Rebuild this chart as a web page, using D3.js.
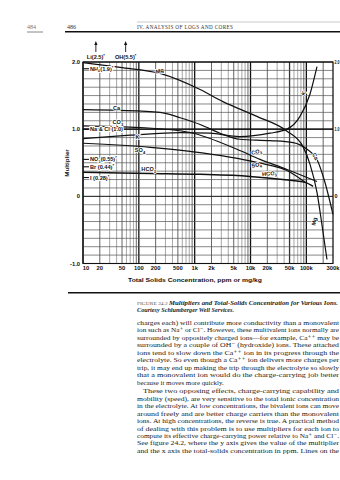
<!DOCTYPE html>
<html><head><meta charset="utf-8">
<script src="https://cdn.jsdelivr.net/npm/d3@7"></script>
<style>
html,body{margin:0;padding:0;background:#fff;}
svg{display:block;}
</style></head><body>
<svg id="page" width="340" height="480"></svg>
<script>
// Axis ticks
const concTicks = [10,20,50,100,200,500,1000,2000,5000,10000,20000,50000,100000,300000];
const concTickLabels = ["10","20","50","100","200","500","1k","2k","5k","10k","20k","50k","100k","300k"];
const multTicks = [2,1,0,-1];
const multTickLabels = ["2.0","1.0","0","-1.0"];

// Multiplier curves: total-solids concentration (ppm) and multiplier
const mgConc  = [10, 46, 240, 1250, 3200, 13000, 45000, 87000, 116000, 155000, 190000, 234000];
const mgMult  = [1.99, 1.92, 1.83, 1.59, 1.41, 1.19, 0.97, 0.74, 0.48, 0.06, -0.42, -0.94];
const caConc  = [10, 46, 240, 550, 1250, 2830, 6400, 22300, 58000, 103000, 155000, 215000, 300000];
const caMult  = [1.29, 1.28, 1.25, 1.17, 1.07, 0.94, 0.85, 0.83, 0.80, 0.70, 0.55, 0.21, -0.27];
const kConc   = [10, 70, 550, 1880, 6400, 22300, 45000, 77000, 116000, 155000];
const kMult   = [0.86, 0.91, 0.95, 0.94, 0.89, 0.94, 1.0, 1.19, 1.52, 1.93];
const co3Conc = [10, 105, 825, 5730, 14800, 45000, 155000];
const co3Mult = [1.05, 1.025, 0.95, 0.70, 0.55, 0.40, 0.22];
const so4Conc = [10, 160, 825, 13000, 51500, 95000];
const so4Mult = [0.79, 0.73, 0.67, 0.505, 0.36, 0.21];
const hco3Conc = [10, 160, 1250, 9800, 51500, 95000, 132000];
const hco3Mult = [0.357, 0.34, 0.327, 0.297, 0.238, 0.208, 0.149];
const naclConc = [10, 300000];
const naclMult = [1.0, 1.0];

// Constant-multiplier ions listed at the left edge
const constIons = [
  {name:"NH", sub:"4", val:"(1.9)", mult:1.9},
  {name:"Na & Cl ", sub:"", val:"(1.0)", mult:1.0, nostar:true},
  {name:"NO", sub:"3", val:"(0.55)", mult:0.55},
  {name:"Br ", sub:"", val:"(0.44)", mult:0.44},
  {name:"I ", sub:"", val:"(0.28)", mult:0.28}
];
// Ions whose multiplier is off the top of the chart
const offIons = [
  {name:"Li", val:"(2.5)", conc:17},
  {name:"OH", val:"(5.5)", conc:58}
];

// Body text
const bodyLines = [
  "charges each) will contribute more conductivity than a monovalent",
  "ion such as Na\u207A or Cl\u207B. However, these multivalent ions normally are",
  "surrounded by oppositely charged ions\u2014for example, Ca\u207A\u207A may be",
  "surrounded by a couple of OH\u207B (hydroxide) ions. These attached",
  "ions tend to slow down the Ca\u207A\u207A ion in its progress through the",
  "electrolyte. So even though a Ca\u207A\u207A ion delivers more charges per",
  "trip, it may end up making the trip through the electrolyte so slowly",
  "that a monovalent ion would do the charge-carrying job better",
  "because it moves more quickly.",
  "These two opposing effects, charge-carrying capability and",
  "mobility (speed), are very sensitive to the total ionic concentration",
  "in the electrolyte. At low concentrations, the bivalent ions can move",
  "around freely and are better charge carriers than the monovalent",
  "ions. At high concentrations, the reverse is true. A practical method",
  "of dealing with this problem is to use multipliers for each ion to",
  "compute its effective charge-carrying power relative to Na\u207A and Cl\u207B.",
  "See figure 24.2, where the y axis gives the value of the multiplier",
  "and the x axis the total-solids concentration in ppm. Lines on the"
];

const svg = d3.select("#page");
const W = 340, H = 480;
svg.append("rect").attr("width", W).attr("height", H).attr("fill", "#fff");

const x = d3.scaleLog().domain([10, 300000]).range([83, 333]);
const y = d3.scaleLinear().domain([-1, 2]).range([263.5, 62]);
const chartFont = "'Liberation Sans', Arial, sans-serif";
const serif = "'Liberation Serif', 'DejaVu Serif', serif";

// ---------- running head ----------
const head = svg.append("g");
head.append("text").attr("x", 27).attr("y", 29).attr("font-family", serif)
  .attr("font-size", 6).attr("fill", "#777").text("484");
head.append("line").attr("x1", 27).attr("x2", 43).attr("y1", 32).attr("y2", 32)
  .attr("stroke", "#888").attr("stroke-width", 1);
head.append("text").attr("x", 67).attr("y", 29).attr("font-family", serif)
  .attr("font-size", 6).attr("fill", "#333").text("486");
head.append("text").attr("x", 137).attr("y", 29).attr("font-family", serif)
  .attr("font-size", 5.2).attr("fill", "#333").attr("textLength", 96)
  .text("IV. ANALYSIS OF LOGS AND CORES");
head.append("line").attr("x1", 137).attr("x2", 340).attr("y1", 22).attr("y2", 22)
  .attr("stroke", "#bbb").attr("stroke-width", 0.8);
head.append("line").attr("x1", 65).attr("x2", 340).attr("y1", 31.7).attr("y2", 31.7)
  .attr("stroke", "#111").attr("stroke-width", 1.4);

// ---------- grid ----------
const grid = svg.append("g");
const vLines = [];
[10,100,1000,10000,100000].forEach(d => {
  for (let m = 1; m <= 9; m++) { const v = m*d; if (v <= 300000) vLines.push({v, m}); }
});
grid.selectAll("line.v").data(vLines).join("line")
  .attr("x1", d => x(d.v)).attr("x2", d => x(d.v))
  .attr("y1", y(2)).attr("y2", y(-1))
  .attr("stroke", d => d.m === 1 ? "#111" : (d.m === 2 || d.m === 5 || d.m === 9) ? "#333" : "#8a8a8a")
  .attr("stroke-width", d => d.m === 1 ? 1.3 : (d.m === 5 && d.v === 50000) ? 1.3 : 0.75);

const hVals = d3.range(-1, 2.0001, 0.125);
grid.selectAll("line.h").data(hVals).join("line")
  .attr("x1", x(10)).attr("x2", x(300000))
  .attr("y1", d => y(d)).attr("y2", d => y(d))
  .attr("stroke", d => Number.isInteger(d) ? "#111" : "#555")
  .attr("stroke-width", d => Number.isInteger(d) ? 1 : 0.7);

// frame
svg.append("rect").attr("x", x(10)).attr("y", y(2))
  .attr("width", x(300000) - x(10)).attr("height", y(-1) - y(2))
  .attr("fill", "none").attr("stroke", "#111").attr("stroke-width", 1.1);

// ---------- curves ----------
const line = d3.line().x(d => x(d[0])).y(d => y(d[1])).curve(d3.curveMonotoneX);
const curves = [
  [naclConc, naclMult, 1.3],
  [mgConc, mgMult, 1.2],
  [caConc, caMult, 1.2],
  [kConc, kMult, 1.2],
  [co3Conc, co3Mult, 1.2],
  [so4Conc, so4Mult, 1.2],
  [hco3Conc, hco3Mult, 1.5]
];
svg.append("g").selectAll("path").data(curves).join("path")
  .attr("d", c => line(d3.zip(c[0], c[1])))
  .attr("fill", "none").attr("stroke", "#111").attr("stroke-width", c => c[2]);

// ---------- curve labels ----------
const curveLabels = [
  {t:"Mg", s:"", conc:240, mult:1.84, a:-14},
  {t:"Ca", s:"", conc:40, mult:1.28, a:0},
  {t:"CO", s:"3", conc:42, mult:1.07, a:0},
  {t:"K", s:"", conc:95, mult:0.86, a:0},
  {t:"SO", s:"4", conc:105, mult:0.66, a:0},
  {t:"HCO", s:"3", conc:150, mult:0.375, a:0},
  {t:"CO", s:"3", conc:13000, mult:0.635, a:-14},
  {t:"SO", s:"4", conc:13000, mult:0.44, a:-10},
  {t:"HCO", s:"3", conc:22000, mult:0.31, a:-6},
  {t:"K", s:"", conc:95000, mult:1.52, a:-62},
  {t:"Ca", s:"", conc:135000, mult:0.58, a:62},
  {t:"Mg", s:"", conc:150000, mult:-0.38, a:-78}
];
const cl = svg.append("g").attr("font-family", chartFont).attr("font-weight", "bold")
  .attr("font-size", 5.6).attr("fill", "#111");
curveLabels.forEach(l => {
  const tx = cl.append("text")
    .attr("transform", `translate(${x(l.conc)},${y(l.mult)}) rotate(${l.a})`)
    .attr("text-anchor", "middle")
    .attr("stroke", "#fff").attr("stroke-width", 1.6).attr("paint-order", "stroke");
  tx.append("tspan").text(l.t);
  if (l.s) tx.append("tspan").attr("dy", 1.5).attr("font-size", 4).text(l.s);
});

// constant-multiplier ions
const ci = svg.append("g").attr("font-family", chartFont).attr("font-weight", "bold")
  .attr("font-size", 5.6).attr("fill", "#111");
constIons.forEach(d => {
  const yy = y(d.mult);
  ci.append("line").attr("x1", x(10)).attr("x2", x(10) + 6).attr("y1", yy).attr("y2", yy)
    .attr("stroke", "#111").attr("stroke-width", 1.1);
  const tx = ci.append("text").attr("x", x(10) + 7).attr("y", yy + 2)
    .attr("stroke", "#fff").attr("stroke-width", 2.2).attr("paint-order", "stroke");
  tx.append("tspan").text(d.name);
  if (d.sub) tx.append("tspan").attr("dy", 1.3).attr("font-size", 4).text(d.sub);
  tx.append("tspan").attr("dy", d.sub ? -1.3 : 0).text(d.val);
  if (!d.nostar) tx.append("tspan").attr("dy", -2).attr("font-size", 4).text("*");
});

// ions off the top of the scale
const oi = svg.append("g").attr("font-family", chartFont).attr("font-weight", "bold")
  .attr("font-size", 5.6).attr("fill", "#111");
offIons.forEach(d => {
  const xx = x(d.conc);
  oi.append("line").attr("x1", xx).attr("x2", xx).attr("y1", 52).attr("y2", 43)
    .attr("stroke", "#111").attr("stroke-width", 0.9);
  oi.append("path").attr("d", `M${xx-1.6},45 L${xx},41 L${xx+1.6},45 Z`).attr("fill", "#111");
  const tx = oi.append("text").attr("x", xx).attr("y", 59).attr("text-anchor", "middle");
  tx.append("tspan").text(d.name + d.val);
  tx.append("tspan").attr("dy", -2).attr("font-size", 4).text("*");
});

// ---------- axes ----------
const ax = svg.append("g").attr("font-family", chartFont).attr("font-size", 5.8)
  .attr("font-weight", "bold").attr("fill", "#111");
ax.selectAll("text.xt").data(concTicks).join("text")
  .attr("x", (d, i) => x(d) + (i === 0 ? 3 : 0)).attr("y", 270)
  .attr("text-anchor", "middle").text((d, i) => concTickLabels[i]);
ax.selectAll("text.yl").data(multTicks).join("text")
  .attr("x", 80).attr("y", d => y(d) + 2)
  .attr("text-anchor", "end").text((d, i) => multTickLabels[i]);
// right-hand scale, squeezed into the margin beside the frame
ax.selectAll("text.yr").data(multTicks.slice(0, 3)).join("text")
  .attr("x", 334.5).attr("y", d => y(d) + 2)
  .attr("text-anchor", "start").attr("font-size", 5)
  .attr("textLength", (d, i) => multTickLabels[i].length > 1 ? 5 : 3)
  .attr("lengthAdjust", "spacingAndGlyphs")
  .text((d, i) => multTickLabels[i]);
ax.append("text").attr("x", 195).attr("y", 282).attr("text-anchor", "middle")
  .attr("font-size", 6.2).attr("textLength", 134).attr("lengthAdjust", "spacingAndGlyphs")
  .text("Total Solids Concentration, ppm or mg/kg");
ax.append("text").attr("transform", "translate(69,163) rotate(-90)")
  .attr("text-anchor", "middle").attr("font-size", 6.2).text("Multiplier");

// ---------- caption ----------
svg.append("line").attr("x1", 68).attr("x2", 340).attr("y1", 292.7).attr("y2", 292.7)
  .attr("stroke", "#111").attr("stroke-width", 1.6);
const cap = svg.append("text").attr("x", 137).attr("y", 304.5)
  .attr("font-family", serif).attr("font-size", 6.2).attr("fill", "#222")
  .attr("textLength", 201).attr("lengthAdjust", "spacingAndGlyphs");
cap.append("tspan").attr("font-size", 5).attr("fill", "#555").text("FIGURE 24.2 ");
cap.append("tspan").attr("font-style", "italic").attr("font-weight", "bold")
  .text("Multipliers and Total-Solids Concentration for Various Ions.");
svg.append("text").attr("x", 137).attr("y", 312)
  .attr("font-family", serif).attr("font-size", 6.2).attr("font-style", "italic")
  .attr("font-weight", "bold").attr("fill", "#222")
  .text("Courtesy Schlumberger Well Services.");

// ---------- body text ----------
const body = svg.append("g").attr("font-family", serif).attr("font-size", 6.9).attr("fill", "#1a1a1a");
bodyLines.forEach((t, i) => {
  const para = i >= 9 ? 1.2 : 0;
  const yy = 325 + i * 7.45 + para;
  const tx = body.append("text").attr("x", i === 9 ? 143 : 137).attr("y", yy).text(t);
  if (i !== 8) tx.attr("textLength", i === 9 ? 196 : 202).attr("lengthAdjust", "spacingAndGlyphs");
});
</script>
</body></html>
